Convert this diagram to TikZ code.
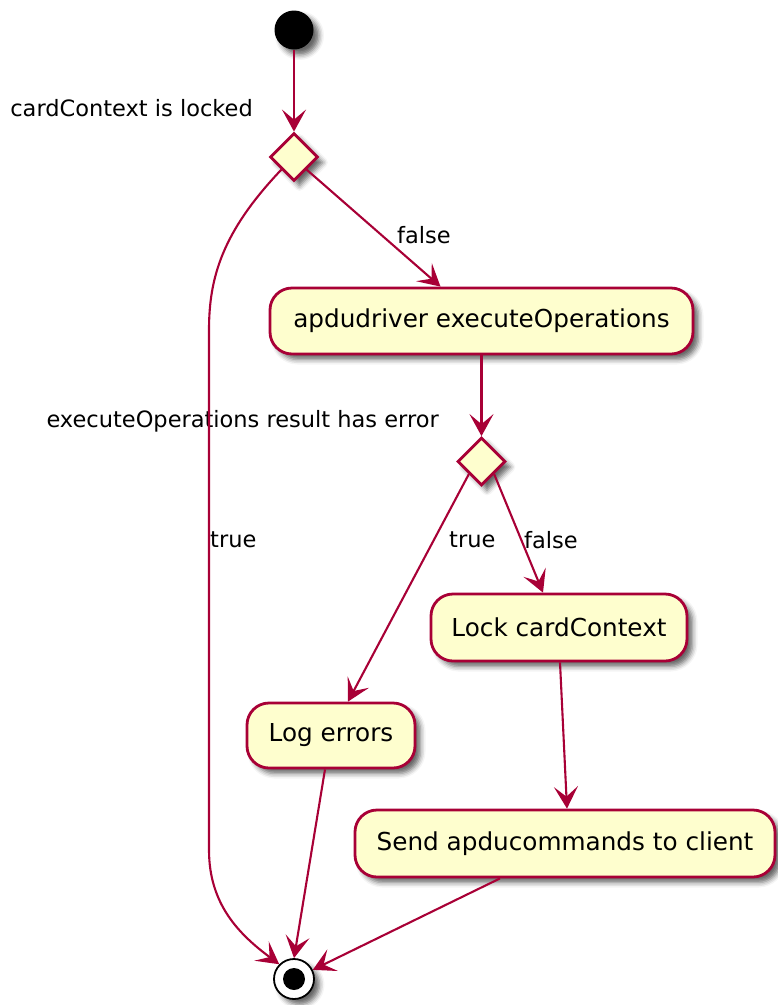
\documentclass[tikz,border=0pt]{standalone}
\usepackage{fontspec}
\setmainfont{DejaVu Sans}
\usetikzlibrary{shapes.geometric,arrows.meta,shadows.blur}

\definecolor{umlline}{HTML}{A80036}
\definecolor{umlfill}{HTML}{FEFECE}

\tikzset{
  softshadow/.style={blur shadow={shadow xshift=5.5pt, shadow yshift=-5.5pt,
      shadow blur radius=5pt, shadow opacity=60}},
  action/.style={draw=umlline, fill=umlfill, line width=2.8pt,
      rounded corners=22pt, inner xsep=0pt, inner ysep=0pt, align=center,
      font=\fontsize{24.7}{29}\selectfont, softshadow},
  choice/.style={diamond, aspect=1, draw=umlline, fill=umlfill,
      line width=2.8pt, minimum width=48pt, minimum height=48pt,
      inner sep=0pt, softshadow},
  flow/.style={draw=umlline, color=umlline, line width=2.1pt,
      -{Stealth[length=22pt,width=24pt,inset=10pt]}},
  guard/.style={font=\fontsize{22.5}{26}\selectfont, inner sep=0pt},
}

\begin{document}
\begin{tikzpicture}[x=1pt, y=-1pt]
  \useasboundingbox (0,0) rectangle (778,1005);

  % start and end points
  \node[circle, fill=black, minimum size=39pt, inner sep=0pt, softshadow]
    (start) at (294,30) {};
  \node[circle, fill=white, draw=black, line width=1.8pt, minimum size=40pt,
        inner sep=0pt, softshadow] (stop) at (294,979) {};
  \node[circle, fill=black, minimum size=22pt, inner sep=0pt] (stopdot) at (294,979) {};

  % decisions
  \node[choice] (lockq) at (294,157) {};
  \node[choice] (errq) at (481.5,461.5) {};

  % actions
  \node[action, minimum width=423pt, minimum height=66pt]
    (exec) at (481.5,321) {apdudriver executeOperations};
  \node[action, minimum width=256pt, minimum height=67pt]
    (lockctx) at (559,627.5) {Lock cardContext};
  \node[action, minimum width=168pt, minimum height=65pt]
    (logerr) at (331,735.5) {Log errors};
  \node[action, minimum width=420pt, minimum height=67pt]
    (send) at (565,843.5) {Send apducommands to client};

  % decision captions
  \node[guard, anchor=east] (lockqtext) at (253,108) {cardContext is locked};
  \node[guard, anchor=east] (errqtext) at (439,421) {executeOperations result has error};

  % waypoints of the bypass branch
  \coordinate (bypasstop) at (209,330);
  \coordinate (bypassbot) at (209,850);

  % connectors
  \draw[flow] (start) -- (lockq);
  \draw[flow] (lockq.south east) -- ([xshift=-41pt]exec.north);
  \draw[flow] (lockq.south west) .. controls (222,232) and (209,278) .. (bypasstop)
     -- (bypassbot) .. controls (209,905) and (240,935) .. (stop.135);
  \draw[flow] (exec) -- (errq);
  \draw[flow] (errq.south west) -- ([xshift=17pt]logerr.north);
  \draw[flow] (errq.south east) -- ([xshift=-16pt]lockctx.north);
  \draw[flow] ([xshift=1pt]lockctx.south) -- ([xshift=2pt]send.north);
  \draw[flow] ([xshift=-6pt]logerr.south) -- (stop.north);
  \draw[flow] ([xshift=-65pt]send.south) -- (stop);

  % branch labels
  \node[guard, anchor=west] (falseone) at (397,235) {false};
  \node[guard, anchor=west] (trueone) at (210,540) {true};
  \node[guard, anchor=west] (truetwo) at (449,540) {true};
  \node[guard, anchor=west] (falsetwo) at (524,540) {false};
\end{tikzpicture}
\end{document}
